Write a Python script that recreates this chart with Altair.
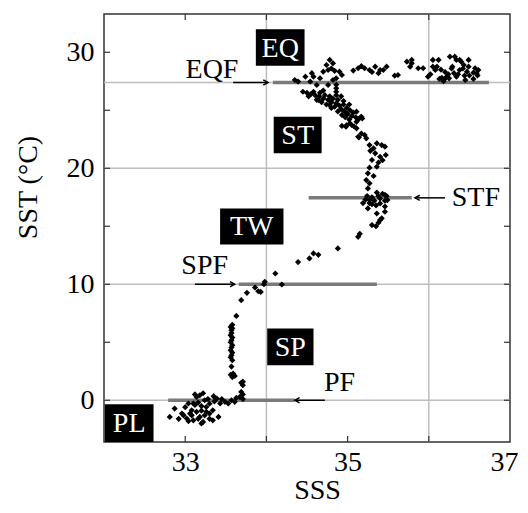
import altair as alt
import pandas as pd

# ---------------- data ----------------
sss = [
 32.81,32.87,32.96,33.02,33.08,33.10,33.14,33.18,33.22,33.26,33.30,33.34,33.41,33.39,33.43,33.49,33.53,33.57,33.61,33.67,
 33.69,33.18,33.24,33.06,33.10,33.14,33.04,33.00,33.30,33.34,33.20,33.16,33.24,33.30,32.98,33.12,33.20,33.26,33.08,33.16,
 33.22,33.12,33.28,33.36,33.45,33.04,33.20,32.92,33.35,33.63,33.71,33.71,
 33.71,33.71,33.69,33.58,33.61,33.56,33.59,
 33.57,33.58,33.56,33.57,33.58,33.56,33.57,33.58,33.56,33.57,33.58,33.56,33.57,33.57,33.58,33.56,33.58,
 33.63,33.69,33.76,33.86,33.93,33.90,33.98,33.97,34.11,34.19,34.39,34.53,34.58,34.64,34.88,35.13,35.15,
 35.30,35.35,35.38,35.42,35.40,35.36,
 35.19,35.22,35.25,35.27,35.27,35.30,35.33,35.35,35.38,35.40,35.40,35.43,35.46,35.46,35.46,35.46,35.49,35.48,35.36,35.30,35.24,
 35.25,35.27,35.23,35.32,35.25,35.27,35.36,35.30,35.40,35.34,35.47,35.32,35.42,35.36,35.27,35.46,35.23,35.21,35.14,35.17,
 35.11,35.05,34.99,34.93,35.08,35.13,35.38,35.43,35.28,34.98,35.03,
 34.50,34.55,34.60,34.58,34.65,34.70,34.66,34.72,34.76,34.80,34.78,34.82,34.86,34.88,34.84,34.90,34.92,34.95,34.96,34.99,
 35.00,35.03,35.05,35.07,35.10,35.13,35.16,35.18,34.93,34.97,35.02,35.11,34.86,34.86,34.86,34.86,34.62,34.68,34.74,34.80,
 34.88,34.52,34.45,34.70,34.92,34.95,35.02,34.64,34.78,34.99,35.11,35.17,
 34.39,34.54,34.58,34.66,34.70,34.76,34.78,34.82,34.74,34.90,34.93,34.82,34.76,34.62,34.35,34.86,34.80,34.56,34.48,34.84,
 35.07,35.13,35.21,35.27,35.34,35.40,35.44,35.38,35.48,35.58,35.62,35.73,35.79,35.79,35.77,35.87,35.93,35.99,36.05,36.05,
 36.10,36.08,36.12,36.13,36.16,36.19,36.22,36.25,36.26,36.32,36.34,36.38,36.40,36.43,36.49,36.49,36.29,36.38,36.47,36.55,
 36.57,36.59,36.61,36.44,36.34,36.28,36.31,36.36,36.42,36.50,36.20,36.15,36.24,36.02,35.30,35.17,36.55,36.60,36.45,36.18,
]
sst = [
 -1.44,-0.72,-1.15,-1.58,-0.86,-0.28,0.28,-1.44,-1.87,-0.58,-1.15,-1.73,-1.44,0.15,-0.28,-0.14,-0.28,0.00,-0.14,0.28,
 0.72,0.43,0.00,-1.15,-1.73,-1.00,-0.28,-0.60,-0.30,-0.86,-0.50,-1.60,-1.30,-1.60,-1.30,-0.40,-0.90,-1.00,-1.30,-0.20,
 0.60,0.50,0.10,-0.10,0.10,-1.80,-2.00,-1.60,0.35,0.20,0.50,0.10,
 1.30,1.60,1.50,2.00,2.10,2.20,2.30,
 2.90,3.45,3.70,3.88,4.10,4.31,4.55,4.75,5.00,5.18,5.40,5.61,5.80,6.04,6.20,6.32,6.50,
 7.27,8.63,9.26,9.72,9.34,9.40,10.21,10.01,10.93,9.98,11.91,12.23,12.66,12.54,13.09,14.09,14.35,
 15.10,15.00,15.30,15.68,15.53,16.10,
 17.00,17.30,16.54,17.26,17.00,17.50,17.20,16.80,17.60,16.97,17.40,17.80,17.70,17.20,16.70,16.25,17.26,17.60,17.90,16.90,17.60,
 18.26,18.70,18.98,19.33,19.56,20.05,20.13,20.71,20.99,21.29,21.14,21.72,22.00,22.15,22.00,21.86,22.58,22.87,22.67,23.00,
 23.44,23.73,23.73,23.65,23.60,22.72,20.50,20.70,21.50,23.58,23.87,
 26.50,26.40,26.30,26.60,26.20,26.00,26.50,26.30,25.90,25.70,26.20,26.00,25.60,25.90,25.30,25.40,25.10,25.50,24.90,25.20,
 24.70,25.00,24.50,24.80,24.40,24.20,24.40,24.30,24.60,24.40,24.20,24.00,26.30,26.60,26.90,27.20,25.90,25.70,25.50,25.20,
 24.90,26.20,26.60,26.70,26.20,25.80,25.50,25.89,25.45,24.60,24.88,24.44,
 27.47,27.47,27.90,27.76,28.33,28.47,29.34,29.05,28.90,28.33,28.04,27.61,27.18,27.18,27.60,27.76,28.60,28.20,27.90,28.40,
 28.42,28.62,28.62,28.47,28.76,28.47,28.47,28.19,28.76,27.98,28.04,29.19,29.34,29.05,28.76,28.62,28.62,27.90,29.34,28.76,
 28.76,28.47,29.34,27.70,27.80,27.65,27.90,27.75,29.62,29.62,29.34,29.34,29.19,28.90,29.34,28.76,28.76,28.47,28.33,28.24,
 28.62,28.19,28.47,27.98,27.90,28.60,28.20,28.10,28.60,28.00,28.30,28.50,28.10,28.10,28.30,28.80,27.70,28.00,27.60,27.50,
]

# custom grid lines
grid_x = [34, 36]
grid_y = [0, 10, 20, 27.4]

# fronts (dark gray segments)
front_names = ["EQF", "STF", "SPF", "PF"]
front_y = [27.4, 17.45, 10.0, 0.0]
front_x1 = [34.08, 34.52, 33.66, 32.79]
front_x2 = [36.74, 35.79, 35.36, 34.35]

# arrows (from -> to)
arrow_from = [33.59, 36.20, 33.12, 34.72]
arrow_to = [34.02, 35.83, 33.61, 34.35]
arrow_y = [27.4, 17.45, 10.0, 0.0]
arrow_dir = ["right", "left", "right", "left"]

# front label texts
flabel_x = [33.33, 36.58, 33.24, 34.90]
flabel_y = [28.5, 17.45, 11.6, 1.5]

# region boxes
region_names = ["EQ", "ST", "TW", "SP", "PL"]
region_x1 = [33.87, 34.09, 33.43, 34.01, 32.01]
region_x2 = [34.47, 34.68, 34.21, 34.58, 32.61]
region_y1 = [28.84, 21.29, 13.43, 3.02, -3.6]
region_y2 = [31.98, 24.44, 16.54, 6.19, -0.35]

x_ticks = [33, 34, 35, 36]
y_ticks = [0, 5, 10, 15, 20, 25, 30]
x_labels = [33, 35, 37]
y_labels = [0, 10, 20, 30]

X_DOMAIN = [32, 37]
Y_DOMAIN = [-3.6, 33.3]

# ---------------- chart ----------------
W, H = 406, 428
FONT = "Liberation Serif"
FS = 28

xs = alt.Scale(domain=X_DOMAIN, nice=False, zero=False)
ys = alt.Scale(domain=Y_DOMAIN, nice=False, zero=False)

XAX = alt.Axis(values=x_labels, title="SSS", grid=False, ticks=False, domain=False,
               labelFont=FONT, labelFontSize=FS, labelColor="black", labelPadding=6,
               labelFlush=True, labelFlushOffset=8,
               titleFont=FONT, titleFontSize=FS, titleFontWeight="normal", titleColor="black",
               titleX=213, titleY=56, titleBaseline="alphabetic")
YAX = alt.Axis(values=y_labels, title="SST (°C)", grid=False, ticks=False, domain=False,
               labelFont=FONT, labelFontSize=FS, labelColor="black", labelPadding=10,
               titleFont=FONT, titleFontSize=FS, titleFontWeight="normal", titleColor="black",
               titleAngle=270, titleX=-76, titleY=173, titleBaseline="middle", titleAlign="center")


def X(f):
    return alt.X(f, scale=xs, axis=XAX)


def Y(f):
    return alt.Y(f, scale=ys, axis=YAX)


pts = pd.DataFrame({"SSS": sss, "SST": sst})

gx = alt.Chart(pd.DataFrame({"v": grid_x})).mark_rule(color="#bdbdbd", strokeWidth=1.5).encode(x=X("v:Q"))
gy = alt.Chart(pd.DataFrame({"v": grid_y})).mark_rule(color="#bdbdbd", strokeWidth=1.5).encode(y=Y("v:Q"))

fronts = alt.Chart(pd.DataFrame({"n": front_names, "y": front_y, "x1": front_x1, "x2": front_x2})).mark_rule(
    color="#7a7a7a", strokeWidth=3.5).encode(x=X("x1:Q"), x2="x2:Q", y=Y("y:Q"))

tdf_x = pd.DataFrame({"v": x_ticks})
tdf_y = pd.DataFrame({"v": y_ticks})
tick_style = dict(color="#333333", strokeWidth=1.2)
tb = alt.Chart(tdf_x).mark_rule(**tick_style).encode(x=X("v:Q"), y=alt.value(H), y2=alt.value(H - 6))
tt = alt.Chart(tdf_x).mark_rule(**tick_style).encode(x=X("v:Q"), y=alt.value(0), y2=alt.value(6))
tl = alt.Chart(tdf_y).mark_rule(**tick_style).encode(y=Y("v:Q"), x=alt.value(0), x2=alt.value(6))
tr = alt.Chart(tdf_y).mark_rule(**tick_style).encode(y=Y("v:Q"), x=alt.value(W), x2=alt.value(W - 6))

adf = pd.DataFrame({"x1": arrow_from, "x2": arrow_to, "y": arrow_y, "d": arrow_dir})
arrows = alt.Chart(adf).mark_rule(color="black", strokeWidth=1.5).encode(x=X("x1:Q"), x2="x2:Q", y=Y("y:Q"))
head_r = alt.Chart(adf).transform_filter("datum.d == 'right'").mark_point(
    shape="M-1,-0.55L0,0L-1,0.55", filled=False, stroke="black", strokeWidth=1.5, size=90, opacity=1).encode(
    x=X("x2:Q"), y=Y("y:Q"))
head_l = alt.Chart(adf).transform_filter("datum.d == 'left'").mark_point(
    shape="M1,-0.55L0,0L1,0.55", filled=False, stroke="black", strokeWidth=1.5, size=90, opacity=1).encode(
    x=X("x2:Q"), y=Y("y:Q"))

flabels = alt.Chart(pd.DataFrame({"t": front_names, "x": flabel_x, "y": flabel_y})).mark_text(
    font=FONT, fontSize=FS, color="black", align="center", baseline="middle").encode(
    x=X("x:Q"), y=Y("y:Q"), text="t:N")

scatter = alt.Chart(pts).mark_point(shape="diamond", filled=True, size=38, color="black", opacity=1).encode(
    x=X("SSS:Q"), y=Y("SST:Q"))

rdf = pd.DataFrame({"n": region_names, "x1": region_x1, "x2": region_x2, "y1": region_y1, "y2": region_y2})
rdf["xc"] = (rdf["x1"] + rdf["x2"]) / 2
rdf["yc"] = (rdf["y1"] + rdf["y2"]) / 2
boxes = alt.Chart(rdf).mark_rect(color="black").encode(x=X("x1:Q"), x2="x2:Q", y=Y("y1:Q"), y2="y2:Q")
btext = alt.Chart(rdf).mark_text(font=FONT, fontSize=FS, color="white", align="center", baseline="middle", dy=1).encode(
    x=X("xc:Q"), y=Y("yc:Q"), text="n:N")

chart = alt.layer(gx, gy, fronts, tb, tt, tl, tr, arrows, head_r, head_l, scatter, flabels, boxes, btext).properties(
    width=W, height=H,
    autosize=alt.AutoSizeParams(type="none"),
    padding={"left": 96, "top": 6, "right": 10, "bottom": 63},
    background="white",
).configure_view(stroke="#333333", strokeWidth=1.5)

chart.save("out.html", embed_options={"renderer": "svg", "actions": False})
